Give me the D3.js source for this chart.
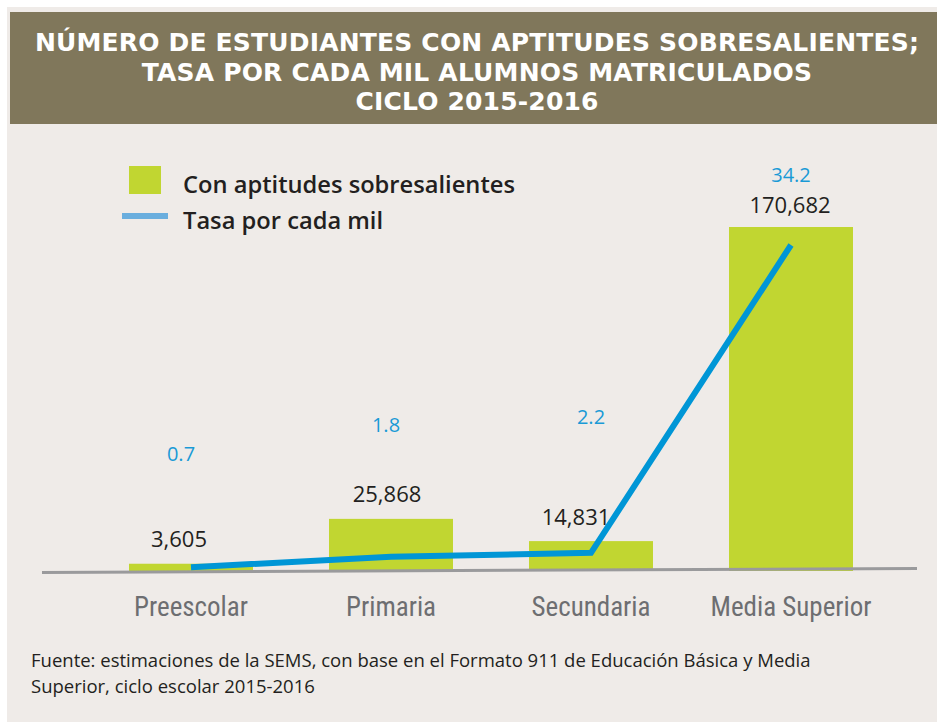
<!DOCTYPE html>
<html><head><meta charset="utf-8">
<script src="https://cdn.jsdelivr.net/npm/d3@7"></script>
<style>
html,body{margin:0;padding:0;background:#fff;}
svg{display:block;}
</style></head>
<body>
<svg id="c" width="937" height="722"></svg>
<script>
const categories = ["Preescolar", "Primaria", "Secundaria", "Media Superior"];
const students = [3605, 25868, 14831, 170682];
const rates = [0.7, 1.8, 2.2, 34.2];
const studentLabels = ["3,605", "25,868", "14,831", "170,682"];
const rateLabels = ["0.7", "1.8", "2.2", "34.2"];
const titleLines = ["NÚMERO DE ESTUDIANTES CON APTITUDES SOBRESALIENTES;", "TASA POR CADA MIL ALUMNOS MATRICULADOS", "CICLO 2015-2016"];
const legendLabels = ["Con aptitudes sobresalientes", "Tasa por cada mil"];
const sourceLines = ["Fuente: estimaciones de la SEMS, con base en el Formato 911 de Educación Básica y Media", "Superior, ciclo escolar 2015-2016"];

const svg = d3.select("#c");
const W = 937, H = 722;
const green = "#c1d631", blue = "#0096d6", legendBlue = "#6aaede";

function fitSize(sel, base, width) {
  sel.style("font-size", base + "px");
  const len = sel.node().getComputedTextLength();
  return base * width / len;
}

// panel
svg.append("rect").attr("x", 7).attr("y", 7).attr("width", W - 7).attr("height", H - 7).attr("fill", "#efebe8");
svg.append("rect").attr("x", 10).attr("y", 12).attr("width", W - 10).attr("height", 112).attr("fill", "#80775b");

// title
const titleFont = "'DejaVu Sans',sans-serif";
const titleBase = [51, 80.5, 110];
const tEls = titleLines.map((t, i) => svg.append("text").attr("x", 477).attr("y", titleBase[i])
  .attr("text-anchor", "middle").attr("fill", "#fff")
  .style("font-family", titleFont).style("font-weight", "bold").style("font-size", "25px").text(t));
const tLen0 = tEls[0].node().getComputedTextLength();
const ls = (884 - tLen0) / titleLines[0].length;
tEls.forEach(e => e.style("letter-spacing", ls.toFixed(2) + "px"));

// scales
const baseY = 571;
const x = d3.scaleBand().domain(categories).range([53, 929]).paddingInner(0.38).paddingOuter(0.38);
const y = d3.scaleLinear().domain([0, 170682]).range([baseY, 227]);
const yr = d3.scaleLinear().domain([0, 34.2]).range([574, 245]);

// bars
svg.append("g").selectAll("rect").data(students).join("rect")
  .attr("x", (d, i) => x(categories[i]))
  .attr("y", d => y(d))
  .attr("width", x.bandwidth())
  .attr("height", d => baseY - y(d))
  .attr("fill", green);

// axis line
svg.append("line").attr("x1", 42).attr("x2", 917).attr("y1", 572.5).attr("y2", 568.5)
  .attr("stroke", "#9a9a9c").attr("stroke-width", 3);

// axis labels
const catFont = "'Roboto Condensed','Liberation Sans Narrow','Open Sans',sans-serif";
const axis = d3.axisBottom(x).tickSize(0).tickPadding(0);
const ag = svg.append("g").attr("transform", "translate(0,597)").call(axis);
ag.select(".domain").remove();
const catTexts = ag.selectAll("text").attr("dy", "0.71em").attr("fill", "#6d6e71")
  .style("font-family", catFont).style("font-weight", "normal");
const cSize = fitSize(d3.select(catTexts.nodes()[0]), 23, 114);
catTexts.style("font-size", cSize.toFixed(2) + "px");

// line
const line = d3.line().x((d, i) => x(categories[i]) + x.bandwidth() / 2).y(d => yr(d));
svg.append("path").datum(rates).attr("d", line).attr("fill", "none")
  .attr("stroke", blue).attr("stroke-width", 6).attr("stroke-linejoin", "miter");

// value labels
const numFont = "'Open Sans','Noto Sans',sans-serif";
svg.append("g").selectAll("text").data(studentLabels).join("text")
  .attr("x", (d, i) => x(categories[i]) + x.bandwidth() / 2 + [-12, -4, -15, -1][i])
  .attr("y", (d, i) => y(students[i]) - [17, 17, 16, 14][i])
  .attr("text-anchor", "middle").attr("fill", "#231f20")
  .style("font-family", numFont).style("font-size", "22px").text(d => d);

svg.append("g").selectAll("text").data(rateLabels).join("text")
  .attr("x", (d, i) => x(categories[i]) + x.bandwidth() / 2 + [-10, -5, 0, 0][i])
  .attr("y", (d, i) => [461, 432, 424, 182][i])
  .attr("text-anchor", "middle").attr("fill", "#1a9ad6")
  .style("font-family", numFont).style("font-size", "20px").text(d => d);

// legend
svg.append("rect").attr("x", 129).attr("y", 166).attr("width", 32).attr("height", 28).attr("fill", green);
svg.append("line").attr("x1", 122).attr("x2", 168).attr("y1", 216).attr("y2", 216)
  .attr("stroke", legendBlue).attr("stroke-width", 6);
const legendY = [193, 229];
const legEls = legendLabels.map((t, i) => svg.append("text").attr("x", 183).attr("y", legendY[i]).attr("fill", "#231f20")
    .style("font-family", numFont).style("font-weight", "600").text(t));
const lSize = fitSize(legEls[0], 22, 332);
legEls.forEach(e => e.style("font-size", lSize.toFixed(2) + "px"));

// source
const srcEls = sourceLines.map((t, i) => svg.append("text").attr("x", 31).attr("y", [667, 693][i])
  .attr("fill", "#231f20").style("font-family", numFont).text(t));
const sSize = Math.min(18.5, fitSize(srcEls[0], 17, 827));
srcEls.forEach(e => e.style("font-size", sSize.toFixed(2) + "px"));
</script>
</body></html>
